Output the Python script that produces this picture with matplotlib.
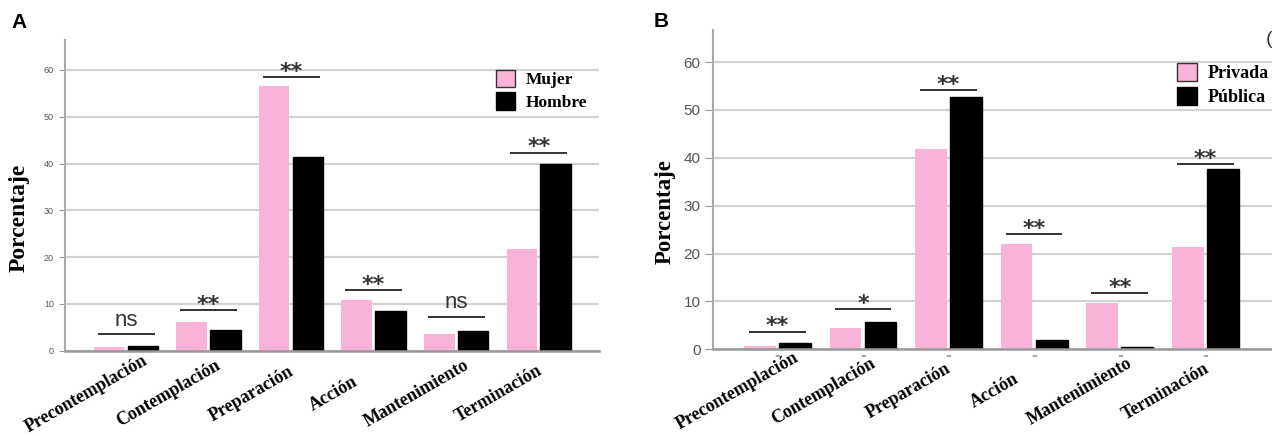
import matplotlib
matplotlib.use("Agg")
import matplotlib.pyplot as plt
import matplotlib.transforms as mtransforms
from matplotlib.patches import Patch
import numpy as np

categories = ["Precontemplación", "Contemplación", "Preparación",
              "Acción", "Mantenimiento", "Terminación"]

# Panel A
mujer = [0.8, 6.1, 56.6, 10.9, 3.5, 21.7]
hombre = [1.1, 4.4, 41.5, 8.4, 4.3, 40.0]
sig_a = ["ns", "**", "**", "**", "ns", "**"]
line_a = [3.5, 8.6, 58.4, 13.0, 7.3, 42.3]

# Panel B
privada = [0.7, 4.4, 41.8, 22.1, 9.6, 21.3]
publica = [1.4, 5.7, 52.7, 1.9, 0.55, 37.6]
sig_b = ["**", "*", "**", "**", "**", "**"]
line_b = [3.7, 8.4, 54.1, 24.0, 11.7, 38.7]

yticks = [0, 10, 20, 30, 40, 50, 60]

PINK = "#f9b2d8"
BLACK = "#000000"

fig = plt.figure(figsize=(12.72, 4.36), dpi=100)
SERIF = ["Liberation Serif", "DejaVu Serif"]
SANS = ["Liberation Sans", "DejaVu Sans"]


def draw_panel(ax, s1, s2, names, sig, lines, xlim, ylim, ytick_fs, ytick_pad,
               tick_len, leg_pos, leg_fs, lab_off, half_span, marks=False):
    x = np.arange(len(categories))
    w = 0.37
    off = 0.205
    ax.bar(x - off, s1, w, color=PINK, edgecolor="none", zorder=3)
    ax.bar(x + off, s2, w, color=BLACK, edgecolor=BLACK, zorder=3)
    ax.set_xlim(*xlim)
    ax.set_ylim(*ylim)
    ax.set_yticks(yticks)
    ax.set_yticklabels([str(v) for v in yticks], fontsize=ytick_fs,
                       color="#555555", family=SANS)
    ax.tick_params(axis="y", length=tick_len, color="#999999", pad=ytick_pad)
    ax.yaxis.grid(True, color="#d2d2d2", lw=1.6, zorder=0)
    ax.set_axisbelow(True)
    for s in ["top", "right"]:
        ax.spines[s].set_visible(False)
    ax.spines["left"].set_color("#aaaaaa")
    ax.spines["left"].set_linewidth(1.5)
    ax.spines["bottom"].set_color("#999999")
    ax.spines["bottom"].set_linewidth(1.8)
    ax.spines["bottom"].set_zorder(4)

    # x tick labels
    ax.set_xticks(x)
    ax.set_xticklabels(categories, rotation=30, ha="center", va="center",
                       rotation_mode="anchor", fontsize=13,
                       fontweight="bold", family=SERIF)
    ax.tick_params(axis="x", length=0, pad=0)
    offset = mtransforms.ScaledTranslation(lab_off[0] / 100, lab_off[1] / 100,
                                           fig.dpi_scale_trans)
    for lab in ax.get_xticklabels():
        lab.set_transform(lab.get_transform() + offset)

    if marks:
        for xi in x:
            ax.annotate("=", (xi, 0), xytext=(0, -3), textcoords="offset points",
                        ha="center", va="top", fontsize=5, color="#666666")

    # significance annotations
    for xi, s, ly in zip(x, sig, lines):
        ax.plot([xi - half_span, xi + half_span], [ly, ly], color="#333333",
                lw=1.4, solid_capstyle="butt", zorder=5)
        if s == "ns":
            ax.annotate(s, (xi, ly), xytext=(0, 6), textcoords="offset points",
                        ha="center", va="baseline", fontsize=16,
                        color="#333333", family=SANS)
        else:
            ax.annotate(s, (xi, ly), xytext=(0, -0.5), textcoords="offset points",
                        ha="center", va="baseline", fontsize=16,
                        fontweight="bold", color="#333333",
                        family=["DejaVu Sans"])

    handles = [Patch(facecolor=PINK, edgecolor="#333333", lw=1.0),
               Patch(facecolor=BLACK, edgecolor=BLACK, lw=1.0)]
    leg = ax.legend(handles, names, loc="upper left", bbox_to_anchor=leg_pos,
                    frameon=False, borderpad=0, borderaxespad=0,
                    handlelength=1.1, handleheight=1.15, labelspacing=0.25,
                    handletextpad=0.6,
                    prop={"family": SERIF, "weight": "bold", "size": leg_fs})
    return leg


# Panel A axes
axA = fig.add_axes([65 / 1272, (436 - 350.7) / 436, (599 - 65) / 1272,
                    (350.7 - 40) / 436])
draw_panel(axA, mujer, hombre, ["Mujer", "Hombre"], sig_a, line_a,
           xlim=(-0.74, 5.73), ylim=(0, 66.4), ytick_fs=6.5, ytick_pad=4,
           tick_len=4, leg_pos=(0.807, 0.905), leg_fs=12.5,
           lab_off=(-40, -43), half_span=0.345)

# Panel B axes
axB = fig.add_axes([713 / 1272, (436 - 349.3) / 436, (1272 - 713) / 1272,
                    (349.3 - 30) / 436])
draw_panel(axB, privada, publica, ["Privada", "Pública"], sig_b, line_b,
           xlim=(-0.754, 5.78), ylim=(0, 66.7), ytick_fs=11, ytick_pad=3,
           tick_len=6, leg_pos=(0.830, 0.896), leg_fs=13,
           lab_off=(-40, -42), half_span=0.33, marks=True)

# y labels
fig.text(19 / 1272, 1 - 218 / 436, "Porcentaje", rotation=90, ha="center",
         va="center", fontsize=17, fontweight="bold", family=SERIF)
fig.text(665 / 1272, 1 - 212 / 436, "Porcentaje", rotation=90, ha="center",
         va="center", fontsize=16.5, fontweight="bold", family=SERIF)

# panel letters
fig.text(11 / 1272, 1 - 28 / 436, "A", fontsize=15, fontweight="bold",
         family=SANS, ha="left", va="baseline")
fig.text(654 / 1272, 1 - 27 / 436, "B", fontsize=15, fontweight="bold",
         family=SANS, ha="left", va="baseline")
fig.text(1266 / 1272, 1 - 40 / 436, "(", fontsize=14, family=SANS,
         ha="left", va="center", color="#333333")

fig.savefig("out.png", dpi=100)
